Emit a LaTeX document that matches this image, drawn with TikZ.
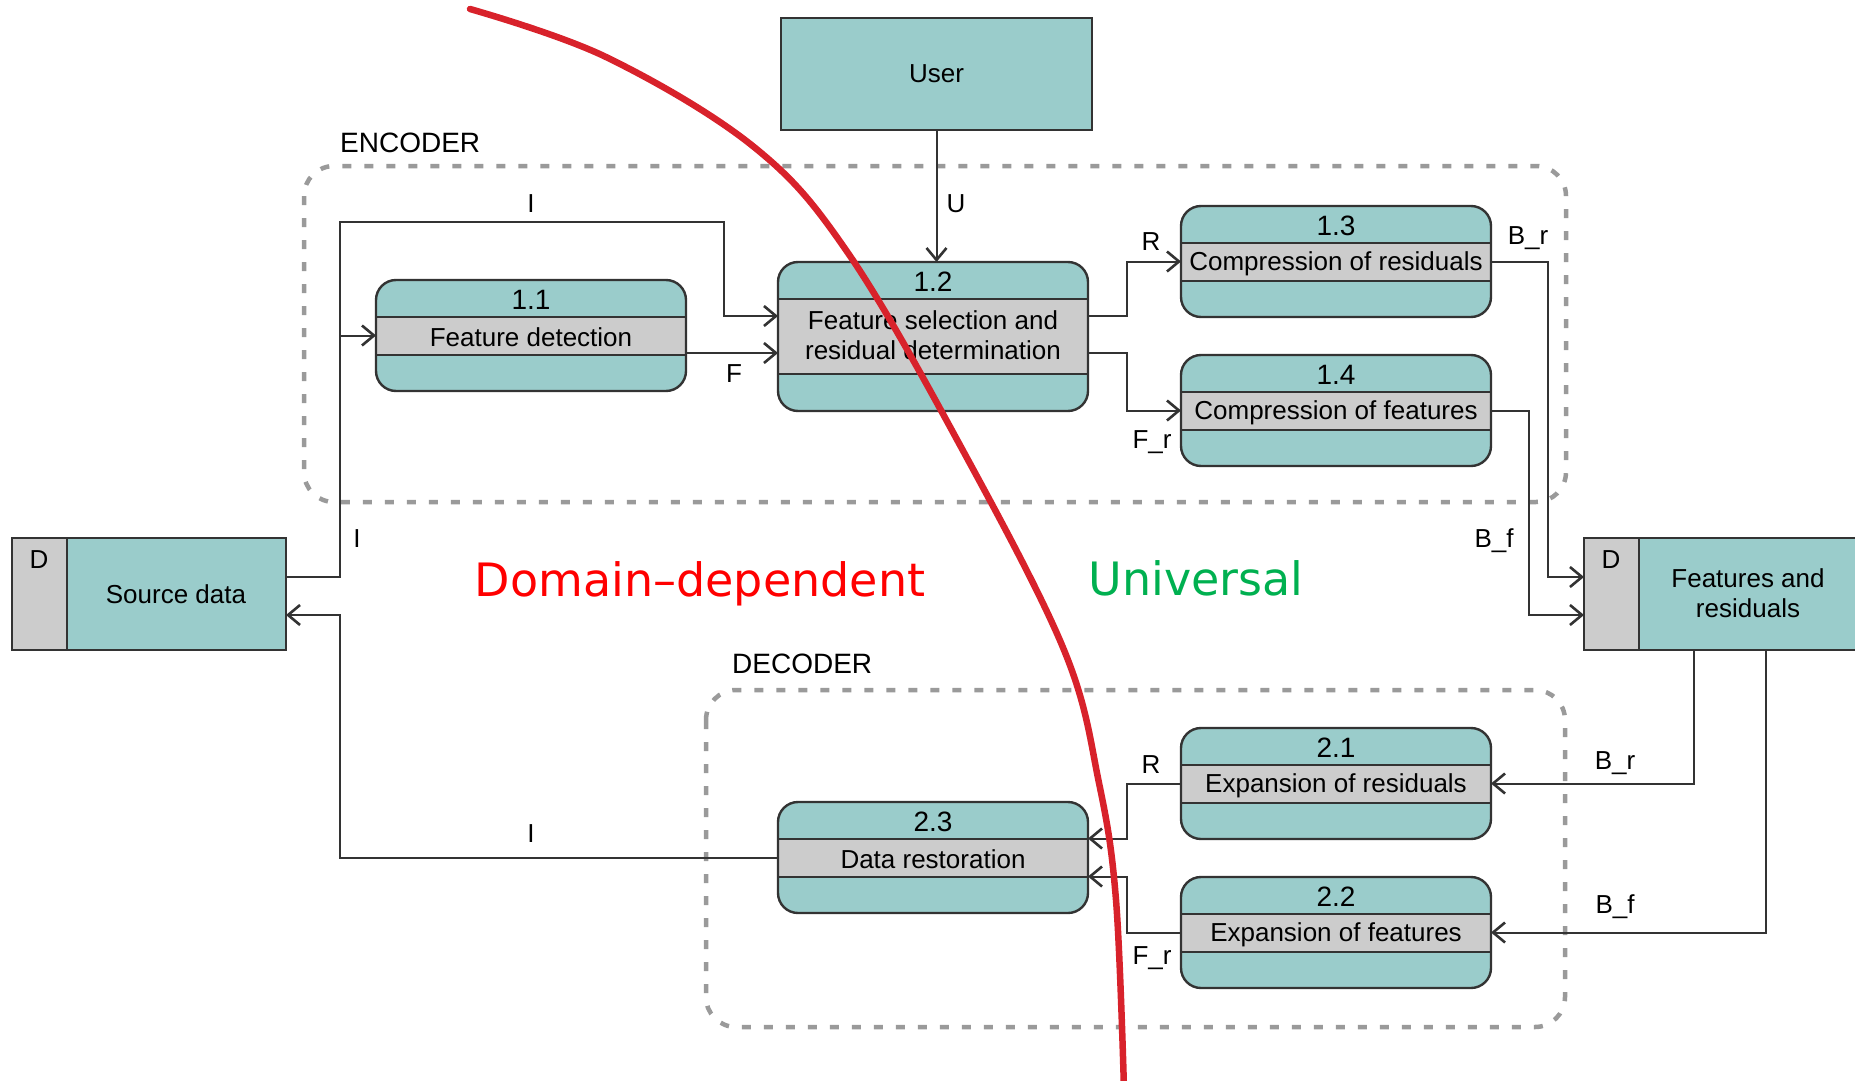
\documentclass[tikz,border=0pt]{standalone}
\usepackage{fontspec}
\setmainfont{Liberation Sans}
\newfontfamily\zonefont{DejaVu Sans}
\usetikzlibrary{arrows.meta,calc}

\definecolor{procfill}{HTML}{9ACCCB}
\definecolor{stripegray}{HTML}{CCCCCC}
\definecolor{edge}{HTML}{333333}
\definecolor{framegray}{HTML}{9A9A9A}
\definecolor{domainred}{HTML}{FF0000}
\definecolor{unigreen}{HTML}{00B050}
\definecolor{cutred}{HTML}{D8222B}

\tikzset{
  txt/.style={font=\fontsize{26}{30}\selectfont, inner sep=0pt, text=black},
  numtxt/.style={font=\fontsize{28}{32}\selectfont, inner sep=0pt, text=black},
  title/.style={font=\fontsize{28}{32}\selectfont, inner sep=0pt, anchor=west},
  zone/.style={font=\zonefont\fontsize{46}{50}\selectfont, inner sep=0pt},
  proc/.style={rectangle, fill=procfill, rounded corners=20pt, minimum width=310pt,
    anchor=north west, inner sep=0pt, outer sep=0pt},
  procedge/.style={draw=edge, line width=2.4pt, rounded corners=20pt},
  sepline/.style={draw=edge, line width=2.2pt},
  store/.style={rectangle, fill=procfill, draw=edge, line width=2pt, minimum width=274pt,
    minimum height=112pt, anchor=north west, inner sep=0pt, outer sep=0pt},
  flow/.style={draw=edge, line width=2pt},
  arr/.style={flow, -{Straight Barb[length=12pt,width=20pt,line width=2.6pt]}},
  frame/.style={draw=framegray, line width=4.5pt, dash pattern=on 9pt off 13pt, rounded corners=30pt},
  cut/.style={draw=cutred, line width=6.5pt, line cap=round},
}

% process box: name, left, top, height, lower stripe offset, number, label, label shift
\newcommand\procbox[8]{%
  \node[proc, minimum height=#4pt] (#1) at (#2,#3) {};
  \fill[stripegray] ($(#1.north west)+(0,37)$) rectangle ($(#1.north east)+(0,#5)$);
  \draw[sepline] ($(#1.north west)+(0,37)$) -- ($(#1.north east)+(0,37)$);
  \draw[sepline] ($(#1.north west)+(0,#5)$) -- ($(#1.north east)+(0,#5)$);
  \draw[procedge] (#1.north west) rectangle (#1.south east);
  \node[numtxt] at ($(#1.north)+(0,19.5)$) {#6};
  \node[txt, align=center] at ($(#1.north)+(0,{(37+#5)/2+#8})$) {#7};
}

\begin{document}
\begin{tikzpicture}[x=1pt,y=-1pt]
\useasboundingbox (0,0) rectangle (1855,1081);
\clip (0,0) rectangle (1855,1081);

% encoder / decoder frames
\draw[frame] (304,166) rectangle (1566,502);
\node[title] (enc) at (340,143) {ENCODER};
\draw[frame] (706,690) rectangle (1565,1027);
\node[title] (dec) at (732,664) {DECODER};

% external entity
\node[rectangle, fill=procfill, draw=edge, line width=2pt, minimum width=311pt,
  minimum height=112pt, anchor=north west, inner sep=0pt, outer sep=0pt] (user) at (781,18) {};
\node[txt] at (user.center) {User};

% data stores
\node[store] (src) at (12,538) {};
\filldraw[fill=stripegray, draw=edge, line width=2pt] (src.north west) rectangle ($(src.south west)+(55,0)$);
\node[txt] at ($(src.north west)+(27,22)$) {D};
\node[txt] at ($(src.center)+(27,0)$) {Source data};

\node[store] (feat) at (1584,538) {};
\filldraw[fill=stripegray, draw=edge, line width=2pt] (feat.north west) rectangle ($(feat.south west)+(55,0)$);
\node[txt] at ($(feat.north west)+(27,22)$) {D};
\node[txt, align=center] at ($(feat.center)+(27,-1)$) {Features and\\residuals};

% processes
\procbox{p11}{376}{280}{111}{75}{1.1}{Feature detection}{1.5}
\procbox{p12}{778}{262}{149}{112}{1.2}{Feature selection and\\residual determination}{-1}
\procbox{p13}{1181}{206}{111}{75}{1.3}{Compression of residuals}{1.5}
\procbox{p14}{1181}{355}{111}{75}{1.4}{Compression of features}{1.5}
\procbox{p21}{1181}{728}{111}{75}{2.1}{Expansion of residuals}{1.5}
\procbox{p22}{1181}{877}{111}{75}{2.2}{Expansion of features}{1.5}
\procbox{p23}{778}{802}{111}{75}{2.3}{Data restoration}{1.5}

% encoder flows
\draw[arr] (user.south) -- (user.south |- p12.north);
\node[txt] at (956,204) {U};

\draw[arr] ($(src.east)+(0,-17)$) -- (340,577) -- (340,222) -- (724,222) -- (724,316) -- (p12.west |- 0,316);
\draw[arr] (340,335.5) -- (p11.west);
\node[txt] at (531,204) {I};
\node[txt] at (357,539) {I};

\draw[arr] (p11.east |- 0,353) -- (p12.west |- 0,353);
\node[txt] at (734,374) {F};

\draw[arr] (p12.east |- 0,316) -| ($(p13.west)+(-54,0)$) -- (p13.west);
\node[txt] at (1151,242) {R};
\draw[arr] (p12.east |- 0,353) -| ($(p14.west)+(-54,0)$) -- (p14.west);
\node[txt] at (1152,442) {F\_r};

\draw[arr] (p13.east) -| ($(feat.west)+(-36,-17)$) -- ($(feat.west)+(0,-17)$);
\node[txt] at (1528,238) {B\_r};
\draw[arr] (p14.east) -| ($(feat.west)+(-55.5,21)$) -- ($(feat.west)+(0,21)$);
\node[txt] at (1494,541) {B\_f};

% decoder flows
\draw[arr] ($(feat.south west)+(110,0)$) |- (p21.east);
\node[txt] at (1615,763) {B\_r};
\draw[arr] ($(feat.south west)+(182,0)$) |- (p22.east);
\node[txt] at (1615,907) {B\_f};

\draw[arr] (p21.west) -| ($(p23.east)+(39,-19)$) -- ($(p23.east)+(0,-19)$);
\node[txt] at (1151,765) {R};
\draw[arr] (p22.west) -| ($(p23.east)+(39,19)$) -- ($(p23.east)+(0,19)$);
\node[txt] at (1152,958) {F\_r};

\draw[arr] (p23.west) -| ($(src.east)+(54,21)$) -- ($(src.east)+(0,21)$);
\node[txt] at (531,834) {I};

% zone captions
\node[zone, text=domainred] (dom) at (700,584) {Domain–dependent};
\node[zone, text=unigreen] (uni) at (1196,578) {Universal};

% boundary between the domain-dependent and universal parts
\draw[cut] plot[smooth, tension=0.6] coordinates {(470,9) (606,57) (754,147) (848,253) (961,447) (1064,650) (1099,783) (1116,900) (1124,1090)};
\end{tikzpicture}
\end{document}
